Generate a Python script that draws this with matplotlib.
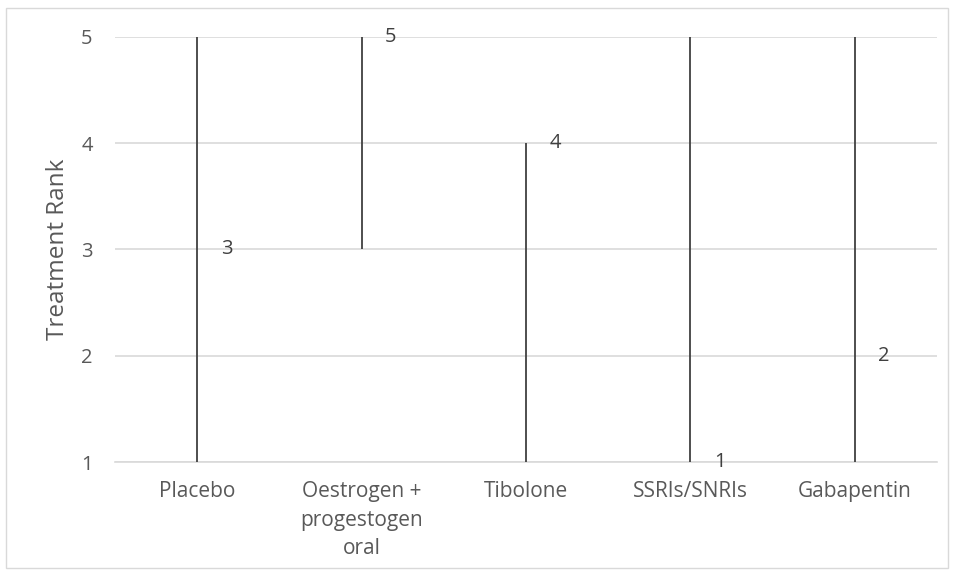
import matplotlib.pyplot as plt
from matplotlib.patches import Rectangle

categories = ["Placebo", "Oestrogen +\nprogestogen\noral", "Tibolone", "SSRIs/SNRIs", "Gabapentin"]
rank_high = [5, 5, 4, 5, 5]
rank_low = [1, 3, 1, 1, 1]
rank_median = [3, 5, 4, 1, 2]

plt.rcParams.update({"font.family": ["Open Sans", "DejaVu Sans"]})
text_color = "#595959"

fig = plt.figure(figsize=(9.54, 5.76), dpi=100)
ax = fig.add_axes([0.1205, 0.1979, 0.8617, 0.7379])

x = list(range(len(categories)))
ax.vlines(x, rank_low, rank_high, color="#404040", lw=1.3, zorder=3)
for xi, m in zip(x, rank_median):
    ax.annotate(str(m), (xi, m), xytext=(17, 0), textcoords="offset points",
                ha="left", va="center", fontsize=14.5, color="#404040")

ax.set_xlim(-0.5, len(categories) - 0.5)
ax.set_ylim(1, 5)
ax.set_yticks([1, 2, 3, 4, 5])
ax.set_xticks(x)
ax.set_xticklabels(categories, fontsize=15, color=text_color, linespacing=1.45)
ax.tick_params(axis="y", labelsize=14.5, labelcolor=text_color, length=0, pad=16)
ax.tick_params(axis="x", length=0, pad=14)
ax.grid(axis="y", color="#d9d9d9", lw=1.2)
ax.set_axisbelow(True)
for s in ["top", "right", "left"]:
    ax.spines[s].set_visible(False)
ax.spines["bottom"].set_color("#d9d9d9")
ax.spines["bottom"].set_linewidth(1.2)
ax.set_ylabel("Treatment Rank", fontsize=17.5, color=text_color, labelpad=8)

fig.patches.append(Rectangle((6 / 954, 8 / 576), 942 / 954, 560 / 576,
                             transform=fig.transFigure, fill=False,
                             edgecolor="#d9d9d9", lw=1.0))

fig.savefig("out.png", dpi=100)
